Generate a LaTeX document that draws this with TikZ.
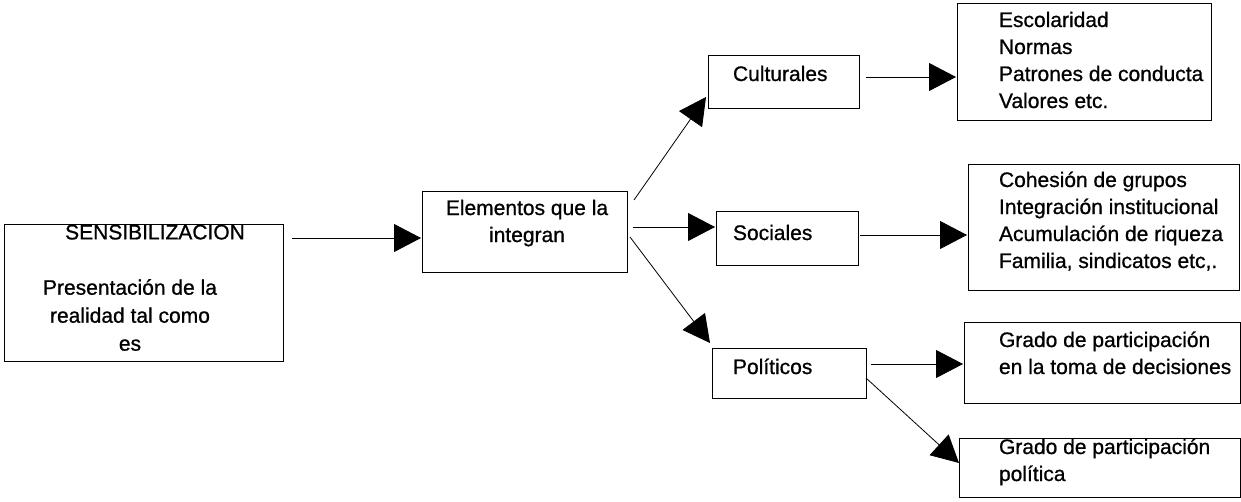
\documentclass[tikz,border=0pt]{standalone}
\usepackage{fontspec}
\setmainfont[FakeBold=0.8]{Liberation Sans}
\usetikzlibrary{arrows.meta}
\tikzset{
  box/.style={draw=black, line width=1pt, inner sep=0pt, outer sep=0pt},
  txt/.style={inner sep=0pt, outer sep=0pt, align=left, anchor=north west,
    font=\fontsize{21}{27}\selectfont},
  ctxt/.style={inner sep=0pt, outer sep=0pt, align=center, anchor=north},
  conn/.style={draw=black, line width=0.8pt, -{Triangle[length=27pt,width=28pt]}}
}
\begin{document}
\begin{tikzpicture}[x=1pt,y=-1pt]
\useasboundingbox (0,0) rectangle (1241,501);
% boxes
\node[box, minimum width=279pt, minimum height=137pt] (sens) at (143.5,292.5) {};
\node[box, minimum width=205pt, minimum height=81pt] (elem) at (524.5,231.5) {};
\node[box, minimum width=151pt, minimum height=53pt] (cult) at (783.5,81.5) {};
\node[box, minimum width=142pt, minimum height=54pt] (soc) at (787,238) {};
\node[box, minimum width=154pt, minimum height=50pt] (pol) at (789,373) {};
\node[box, minimum width=254pt, minimum height=117pt] (esc) at (1084,61.5) {};
\node[box, minimum width=271pt, minimum height=126pt] (coh) at (1103.5,227) {};
\node[box, minimum width=276pt, minimum height=81pt] (gra) at (1102,362.5) {};
\node[box, minimum width=281pt, minimum height=59pt] (grb) at (1099.5,467.5) {};
% texts
\node[ctxt, font=\fontsize{21}{27}\selectfont] (sens-t) at (155,220.5) {\strut SENSIBILIZACION};
\node[ctxt, font=\fontsize{21}{28}\selectfont] (sens-d) at (130,275.1) {\strut Presentación de la\\realidad tal como\\es};
\node[ctxt, font=\fontsize{21}{27}\selectfont] (elem-t) at (527,196.1) {\strut Elementos que la\\integran};
\node[txt] (cult-t) at (733,62.1) {\strut Culturales};
\node[txt] (soc-t) at (733,221.1) {\strut Sociales};
\node[txt] (pol-t) at (733,355.1) {\strut Políticos};
\node[txt] (esc-t) at (999,8.1) {\strut Escolaridad\\Normas\\Patrones de conducta\\Valores etc.};
\node[txt] (coh-t) at (999,168.1) {\strut Cohesión de grupos\\Integración institucional\\Acumulación de riqueza\\Familia, sindicatos etc,.};
\node[txt] (gra-t) at (999,328.1) {\strut Grado de participación\\en la toma de decisiones};
\node[txt] (grb-t) at (999,435.1) {\strut Grado de participación\\política};
% connectors
\draw[conn] ([xshift=9pt,yshift=54.5pt]sens.east) -- ([xshift=-1pt,yshift=-6.5pt]elem.west);
\draw[conn] ([xshift=7pt,yshift=-9pt]elem.north east) -- ([xshift=-2pt,yshift=11pt]cult.south west);
\draw[conn] ([xshift=6pt,yshift=4.5pt]elem.east) -- ([xshift=-1pt,yshift=11pt]soc.west);
\draw[conn] ([xshift=3pt,yshift=-5.5pt]elem.east) -- ([xshift=-2pt,yshift=5pt]pol.north west);
\draw[conn] ([xshift=7pt,yshift=4.5pt]cult.east) -- ([xshift=-1pt,yshift=-15.5pt]esc.west);
\draw[conn] ([xshift=2pt,yshift=3pt]soc.east) -- ([xshift=-1pt,yshift=-8pt]coh.west);
\draw[conn] ([xshift=5pt,yshift=9pt]pol.east) -- ([xshift=-1pt,yshift=-1.5pt]gra.west);
\draw[conn] ([yshift=-5pt]pol.east) -- ([yshift=4.5pt]grb.west);
\end{tikzpicture}
\end{document}
